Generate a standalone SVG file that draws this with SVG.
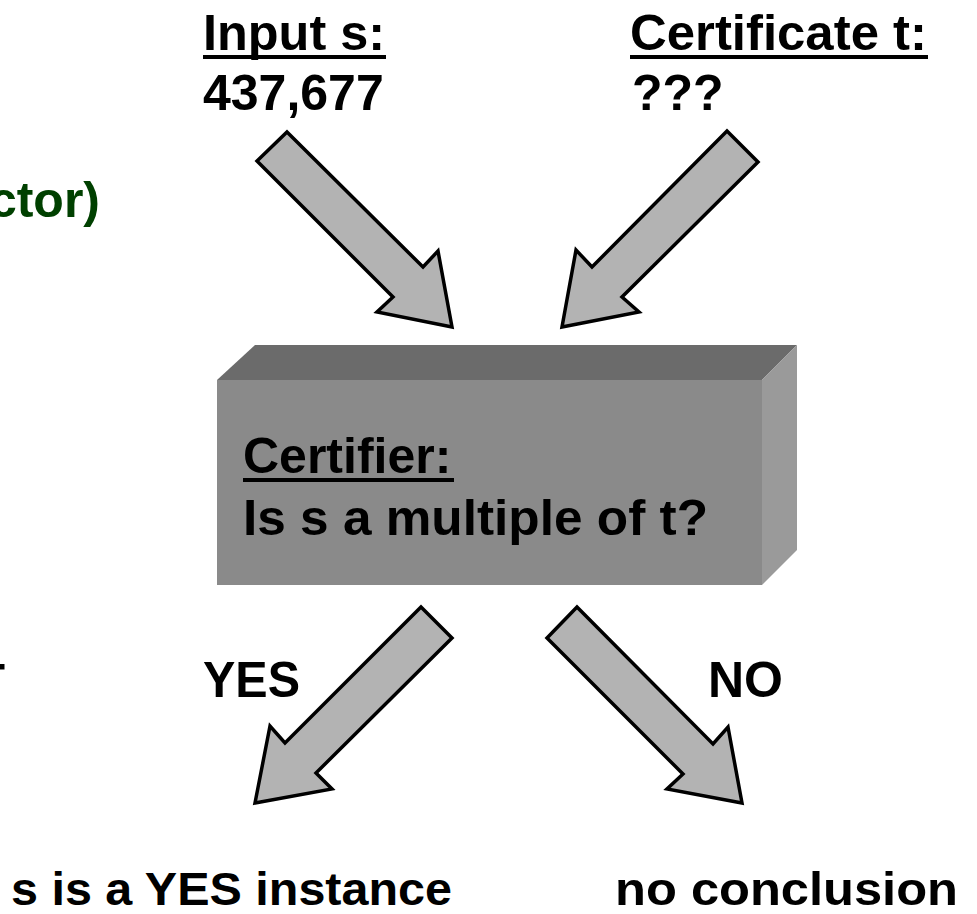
<svg xmlns="http://www.w3.org/2000/svg" width="977" height="914" viewBox="0 0 977 914">
<style>
text{font-family:"Liberation Sans",Arial,sans-serif;font-weight:bold;fill:#000}
.t{font-size:50px}
.arrow{fill:#b3b3b3;stroke:#000;stroke-width:3.5;stroke-linejoin:miter}
</style>
<rect width="977" height="914" fill="#fff"/>
<text class="t" x="100" y="217" text-anchor="end" style="fill:#004000">ctor)</text>
<text class="t" x="5" y="699" text-anchor="end">T</text>
<g id="input">
<text class="t" x="203" y="50" textLength="182" lengthAdjust="spacingAndGlyphs">Input s:</text>
<rect x="203" y="55" width="183" height="4"/>
<text class="t" x="203" y="110">437,677</text>
</g>
<g id="certificate">
<text class="t" x="630" y="50" textLength="297" lengthAdjust="spacingAndGlyphs">Certificate t:</text>
<rect x="630" y="55" width="298" height="4"/>
<text class="t" x="632" y="110">???</text>
</g>
<g id="certifier">
<polygon points="217,380 255,345 797,345 762,380" fill="#6b6b6b"/>
<polygon points="762,380 797,345 797,550 762,585" fill="#9a9a9a"/>
<rect x="217" y="380" width="545" height="205" fill="#8a8a8a"/>
<text class="t" x="243" y="473">Certifier:</text>
<rect x="243" y="478" width="211" height="4"/>
<text class="t" x="243" y="535" textLength="465" lengthAdjust="spacingAndGlyphs">Is s a multiple of t?</text>
</g>
<g id="connectors">
<polygon class="arrow" points="287,132 423,267 438,251 452,327 377,312 393,297 257,161"/>
<polygon class="arrow" points="727,131 758,162 622,297 639,312 562,327 576,250 592,267"/>
<polygon class="arrow" points="421,607 452,638 316,773 332,789 255,803 270,726 285,743"/>
<polygon class="arrow" points="577,607 547,638 683,774 667,789 742,803 728,727 713,744"/>
</g>
<g id="yes-label"><text class="t" x="203" y="697" textLength="97" lengthAdjust="spacingAndGlyphs">YES</text></g>
<g id="no-label"><text class="t" x="708" y="697" textLength="75" lengthAdjust="spacingAndGlyphs">NO</text></g>
<g id="yes-result"><text x="11" y="905" style="font-size:47px" textLength="441" lengthAdjust="spacingAndGlyphs">s is a YES instance</text></g>
<g id="no-result"><text x="615" y="905" style="font-size:47px" textLength="343" lengthAdjust="spacingAndGlyphs">no conclusion</text></g>
</svg>
